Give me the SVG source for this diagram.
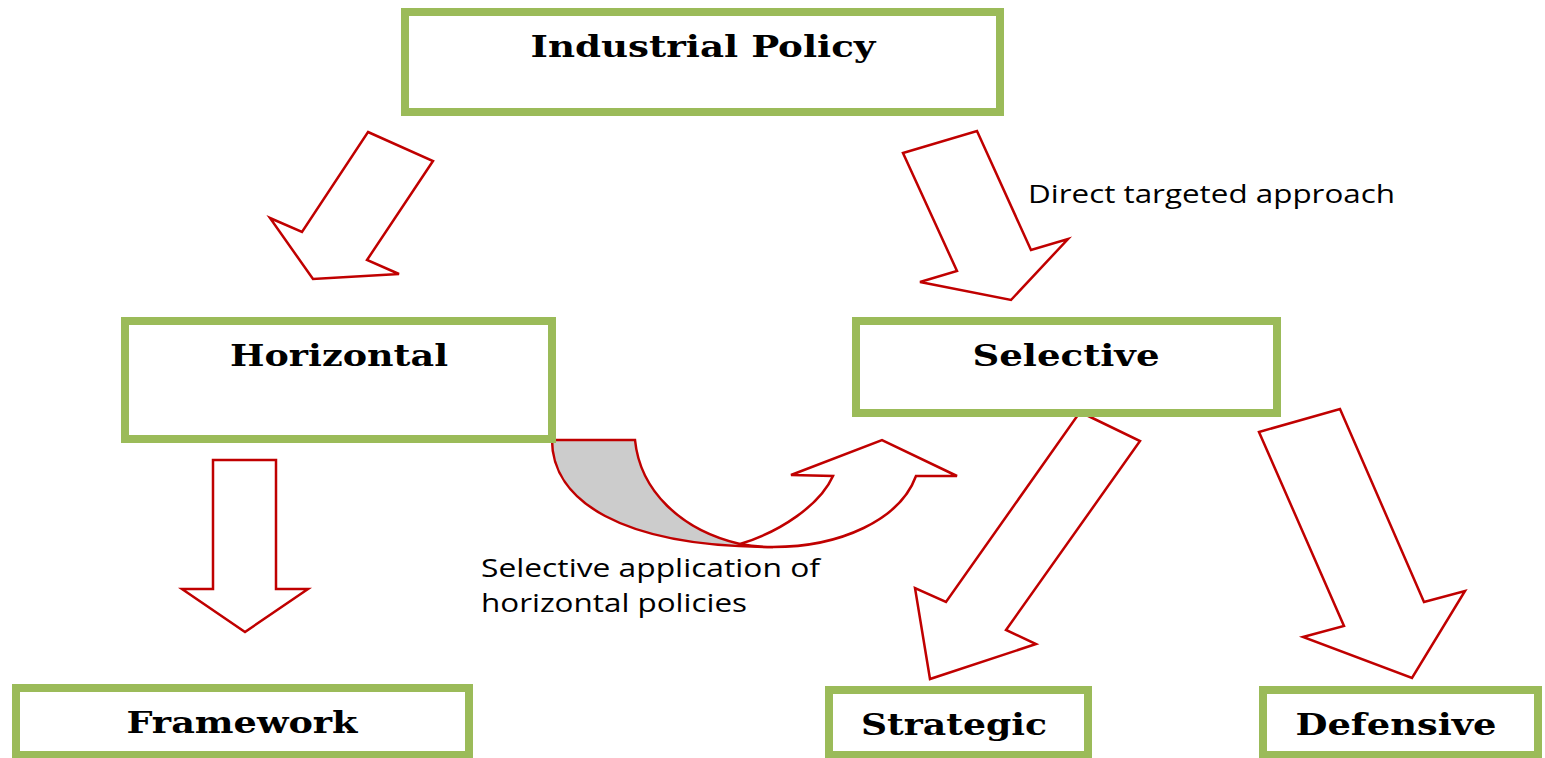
<svg xmlns="http://www.w3.org/2000/svg" width="1545" height="758" viewBox="0 0 1545 758">
  <style>
    .box { fill: #ffffff; stroke: #9BBB59; stroke-width: 8; }
    .title { font-family: "DejaVu Serif", "Liberation Serif", serif; font-weight: bold; font-size: 30px; fill: #000000; }
    .note { font-family: "Open Sans", "Liberation Sans", sans-serif; font-size: 25px; fill: #000000; }
    .arrow { fill: #ffffff; stroke: #C00000; stroke-width: 2.5; stroke-linejoin: miter; }
    .back { fill: #CCCCCC; stroke: #C00000; stroke-width: 2.5; }
  </style>
  <rect width="1545" height="758" fill="#ffffff"/>

  <g id="connectors">
    <!-- Industrial Policy -> Horizontal -->
    <polygon class="arrow" points="368,132 433,161 367,260 399,274 313,279 270,218 302,232"/>
    <!-- Industrial Policy -> Selective -->
    <polygon class="arrow" points="903,153 977,131 1031,250 1068,239 1011,300 920,282 957,271"/>
    <!-- Horizontal -> Framework -->
    <polygon class="arrow" points="213,460 276,460 276,589 308,589 245,632 182,589 213,589"/>
    <!-- Selective -> Strategic -->
    <polygon class="arrow" points="1080,412 1140,441 1006,630 1036,644 930,679 915,588 946,602"/>
    <!-- Selective -> Defensive -->
    <polygon class="arrow" points="1259,432 1340,409 1424,602 1465,591 1412,678 1303,637 1344,626"/>
    <!-- Horizontal -> Selective (curved up arrow) -->
    <path class="back" d="M552,440 L635,440 C640,490 680,530 740,544 L773,547 C620,547 552,500 552,440 Z"/>
    <path class="arrow" d="M740,544 C780,532 820,505 833,476 L791,475 L882,440 L957,476 L916,476 C900,520 840,547 773,547 C760,547 750,546 740,544 Z"/>
  </g>

  <g id="node-industrial-policy">
    <rect class="box" x="405" y="12" width="595" height="100"/>
    <text class="title" x="703" y="57" text-anchor="middle" textLength="345" lengthAdjust="spacingAndGlyphs">Industrial Policy</text>
  </g>

  <g id="node-horizontal">
    <rect class="box" x="125" y="321" width="427" height="118"/>
    <text class="title" x="339" y="366" text-anchor="middle" textLength="218" lengthAdjust="spacingAndGlyphs">Horizontal</text>
  </g>

  <g id="node-selective">
    <rect class="box" x="856" y="321" width="421" height="92"/>
    <text class="title" x="1066" y="366" text-anchor="middle" textLength="187" lengthAdjust="spacingAndGlyphs">Selective</text>
  </g>

  <g id="node-framework">
    <rect class="box" x="16" y="688" width="453" height="67"/>
    <text class="title" x="242" y="733" text-anchor="middle" textLength="231" lengthAdjust="spacingAndGlyphs">Framework</text>
  </g>

  <g id="node-strategic">
    <rect class="box" x="829" y="690" width="259" height="65"/>
    <text class="title" x="954" y="735" text-anchor="middle" textLength="186" lengthAdjust="spacingAndGlyphs">Strategic</text>
  </g>

  <g id="node-defensive">
    <rect class="box" x="1263" y="690" width="275" height="65"/>
    <text class="title" x="1396" y="735" text-anchor="middle" textLength="201" lengthAdjust="spacingAndGlyphs">Defensive</text>
  </g>

  <g id="labels">
    <text class="note" x="1028" y="203" textLength="367" lengthAdjust="spacingAndGlyphs">Direct targeted approach</text>
    <text class="note" x="481" y="577" textLength="339" lengthAdjust="spacingAndGlyphs">Selective application of</text>
    <text class="note" x="481" y="612" textLength="266" lengthAdjust="spacingAndGlyphs">horizontal policies</text>
  </g>
</svg>
